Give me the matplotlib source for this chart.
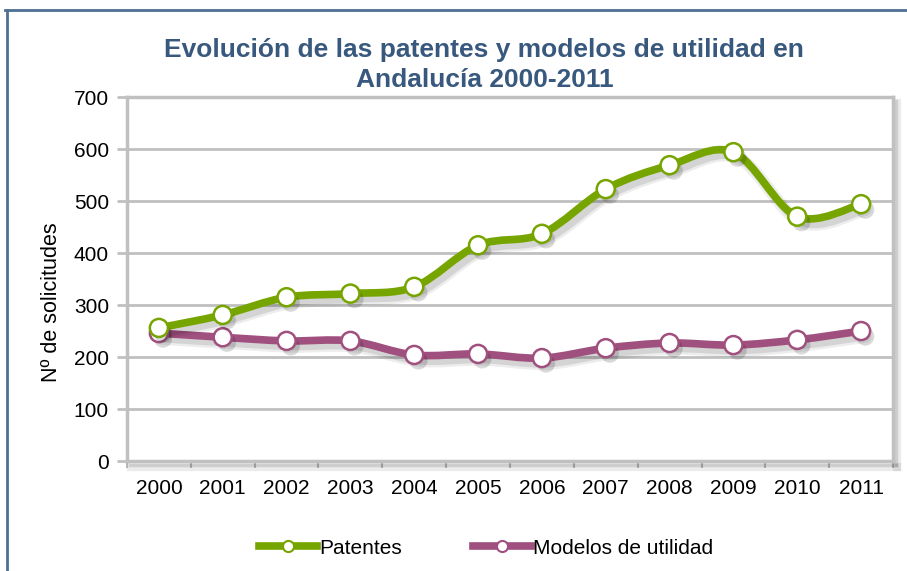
import matplotlib
matplotlib.use("Agg")
import matplotlib.pyplot as plt
import matplotlib.patheffects as pe
from matplotlib.path import Path
from matplotlib.patches import PathPatch
from matplotlib.lines import Line2D
import numpy as np

# ── Data ──
years = ["2000", "2001", "2002", "2003", "2004", "2005",
         "2006", "2007", "2008", "2009", "2010", "2011"]
patentes = [256, 281, 315, 322, 335, 415, 437, 523, 569, 594, 470, 494]
modelos = [246, 238, 231, 231, 204, 206, 198, 217, 227, 223, 233, 250]

# ── Colors ──
GREEN = "#77a500"
PURPLE = "#a0507e"
TITLE = "#38597d"
GRID = "#c0c0c0"
FRAME = "#4f6f92"

plt.rcParams["font.family"] = ["Liberation Sans", "DejaVu Sans"]


def smooth_path(xs, ys):
    """Excel-like smoothed curve: cubic bezier through the points."""
    pts = np.column_stack([xs, ys]).astype(float)
    verts = [pts[0]]
    codes = [Path.MOVETO]
    n = len(pts)
    for i in range(n - 1):
        p0 = pts[i - 1] if i > 0 else pts[i]
        p1 = pts[i]
        p2 = pts[i + 1]
        p3 = pts[i + 2] if i + 2 < n else pts[i + 1]
        c1 = p1 + (p2 - p0) / 6.0
        c2 = p2 - (p3 - p1) / 6.0
        verts += [c1, c2, p2]
        codes += [Path.CURVE4] * 3
    return Path(verts, codes)


def soft_line_shadow():
    # a few stacked faint shadows to fake a blur
    return [pe.SimpleLineShadow(offset=(3, -4), alpha=0.07, shadow_color="black",
                                linewidth=9),
            pe.SimpleLineShadow(offset=(3, -4), alpha=0.10, shadow_color="black"),
            pe.Normal()]


fig = plt.figure(figsize=(9.07, 5.71), dpi=100)
fig.patch.set_facecolor("white")
ax = fig.add_axes([0.140, 0.1926, 0.8446, 0.6374])

x = np.arange(len(years))
mshadow = [pe.SimplePatchShadow(offset=(3, -4), alpha=0.15, shadow_rgbFace="black"),
           pe.Normal()]

for vals, col in [(modelos, PURPLE), (patentes, GREEN)]:
    patch = PathPatch(smooth_path(x, vals), fill=False, edgecolor=col,
                      linewidth=5.5, capstyle="round", joinstyle="round",
                      zorder=4)
    patch.set_path_effects(soft_line_shadow())
    ax.add_patch(patch)
    ax.plot(x, vals, linestyle="none", marker="o", markersize=13,
            markerfacecolor="white", markeredgecolor=col,
            markeredgewidth=1.8, zorder=5, path_effects=mshadow)

ax.set_xlim(-0.5, len(years) - 0.5)
ax.set_ylim(0, 700)
ax.set_yticks(range(0, 701, 100))
ax.set_xticks(x)
ax.set_xticklabels(years)
ax.set_xticks(np.arange(-0.5, len(years), 1.0), minor=True)
ax.tick_params(axis="x", which="major", length=0, labelsize=15, pad=13)
ax.tick_params(axis="x", which="minor", length=5, width=1.5, color=GRID,
               direction="out")
ax.tick_params(axis="y", length=7, width=2, color=GRID, labelsize=15, pad=6)

ax.grid(axis="y", color=GRID, linewidth=2)
ax.set_axisbelow(True)
for spine in ax.spines.values():
    spine.set_color(GRID)
    spine.set_linewidth(2.5)
for side in ("right", "bottom"):
    ax.spines[side].set_path_effects(
        [pe.SimpleLineShadow(offset=(3, -4), alpha=0.08, shadow_color="black",
                             linewidth=6),
         pe.SimpleLineShadow(offset=(2, -3), alpha=0.12, shadow_color="black"),
         pe.Normal()])

fig.text(0.534, 1 - 50 / 571, "Evolución de las patentes y modelos de utilidad en",
         ha="center", va="center", fontsize=19, fontweight="bold", color=TITLE)
fig.text(0.534, 1 - 80 / 571, "Andalucía 2000-2011",
         ha="center", va="center", fontsize=19, fontweight="bold", color=TITLE)
fig.text(0.057, 1 - 302 / 571, "Nº de solicitudes", rotation=90,
         ha="center", va="center", fontsize=15.5)

handles = [
    Line2D([], [], color=GREEN, linewidth=5.5, marker="o", markersize=8,
           markerfacecolor="white", markeredgecolor=GREEN, markeredgewidth=1.5),
    Line2D([], [], color=PURPLE, linewidth=5.5, marker="o", markersize=8,
           markerfacecolor="white", markeredgecolor=PURPLE, markeredgewidth=1.5),
]
fig.legend(handles, ["Patentes", "Modelos de utilidad"], loc="center",
           bbox_to_anchor=(0.536, 1 - 548 / 571), ncol=2, frameon=False,
           fontsize=15, handlelength=2.8, handletextpad=0.1,
           columnspacing=3.4)

# outer frame (left and top edges visible)
fig.add_artist(Line2D([0.008, 0.008], [0, 0.983], color=FRAME, linewidth=2))
fig.add_artist(Line2D([0.006, 1.0], [0.983, 0.983], color=FRAME, linewidth=2))

fig.savefig("out.png", dpi=100, facecolor="white")
